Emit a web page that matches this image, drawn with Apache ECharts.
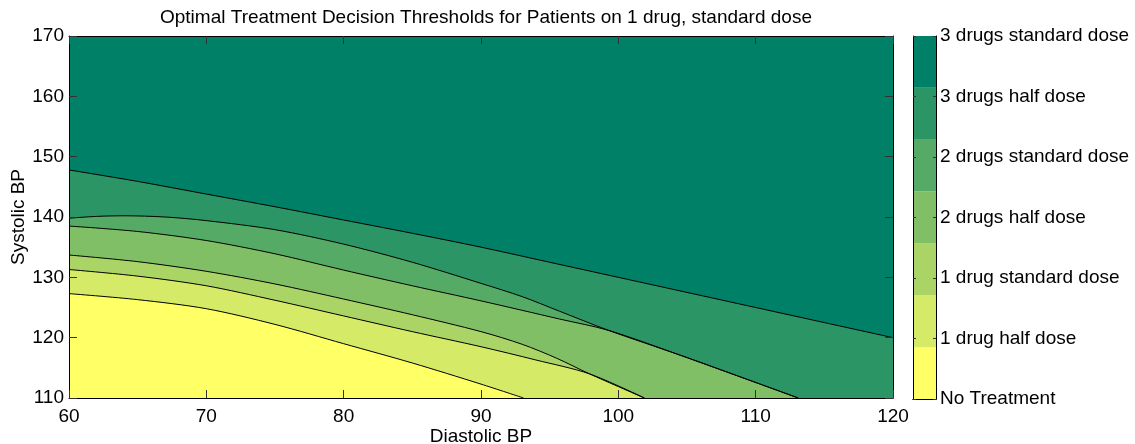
<!DOCTYPE html>
<html><head><meta charset="utf-8">
<script src="https://cdn.jsdelivr.net/npm/echarts@6/dist/echarts.min.js"></script>
<style>html,body{margin:0;padding:0;background:#fff}#c{width:1135px;height:444px}</style>
</head><body><div id="c"></div>
<script>
const titleText = 'Optimal Treatment Decision Thresholds for Patients on 1 drug, standard dose';
const xName = 'Diastolic BP';
const yName = 'Systolic BP';
const xRange = [60, 120];
const yRange = [110, 170];
const levelNames = ['No Treatment', '1 drug half dose', '1 drug standard dose', '2 drugs half dose',
  '2 drugs standard dose', '3 drugs half dose', '3 drugs standard dose'];
const levelColors = ['#FFFF66', '#D5EA66', '#AAD566', '#80BF66', '#55AA66', '#2B9566', '#008066'];

// contour boundaries [diastolic, systolic]
const curveA = [[60,147.8],[65,145.9],[70,143.8],[75,141.7],[80,139.5],[85,137.3],[90,135.0],[95,132.5],[100,130.0],[105,127.5],[110,125.0],[115,122.5],[120,120.0]];
const mergeBC = [[99.3,121.2],[104.5,117.1],[109,113.4],[113.1,110]];
const curveB = [[60,139.8],[62,140.1],[64,140.2],[67,140.0],[70,139.4],[75,137.9],[80,135.5],[85,132.5],[90,129.0],[93,126.8],[95.7,124.4]].concat(mergeBC);
const curveC = [[60,138.5],[65,137.6],[70,136.1],[75,133.9],[80,131.2],[85,128.6],[90,126.1],[95.7,123.1]].concat(mergeBC);
const mergeDE = [[97.9,114.0],[101.9,110]];
const curveD = [[60,133.7],[65,132.6],[70,131.0],[75,128.9],[80,126.4],[85,123.8],[90,121.0],[93,118.9],[95.5,116.6]].concat(mergeDE);
const curveE = [[60,131.3],[65,130.2],[70,128.6],[75,126.2],[80,123.6],[85,121.0],[90,118.5],[94,116.3]].concat(mergeDE);
const curveF = [[60,127.3],[65,126.3],[70,124.8],[75,122.2],[80,119.0],[85,115.8],[90,112.3],[93.1,110]];

const boundaries = [curveA, curveB, curveC, curveD, curveE, curveF]; // top to bottom
const levelBelow = [5, 4, 3, 2, 1, 0];

const FONT = 'Liberation Sans, Arial, Helvetica, sans-serif';
const FS = 19;
const SMOOTH = 0.3;
const series = [];
boundaries.forEach((c, i) => {
  series.push({type:'line', xAxisIndex:0, yAxisIndex:0, data:c, symbol:'none', smooth:SMOOTH,
    lineStyle:{width:0, opacity:0}, areaStyle:{color:levelColors[levelBelow[i]], opacity:1, origin:'start'},
    z:2, silent:true, animation:false});
});
boundaries.forEach((c) => {
  series.push({type:'line', xAxisIndex:0, yAxisIndex:0, data:c, symbol:'none', smooth:SMOOTH,
    lineStyle:{color:'#000', width:1}, z:3, silent:true, animation:false});
});
// colorbar bands
const nLev = levelNames.length;
levelColors.forEach((col) => {
  series.push({type:'bar', xAxisIndex:2, yAxisIndex:2, stack:'cb', data:[(nLev - 1) / nLev], barWidth:'100%',
    itemStyle:{color:col}, silent:true, animation:false});
});

const tickStyle = {show:true, inside:true, length:8, lineStyle:{color:'#333', width:1}};
const lineStyle = {show:true, lineStyle:{color:'#000', width:1}};
const option = {
  animation:false,
  textStyle:{fontFamily:FONT},
  title:{text:titleText, left:155, top:3, textStyle:{fontFamily:FONT, fontSize:FS, fontWeight:'normal', color:'#000'}},
  grid:[
    {left:69, right:1135-893, top:36, bottom:444-398, show:true, backgroundColor:levelColors[6], borderWidth:0,
      containLabel:false, outerBoundsMode:'none'},
    {left:913, width:23, top:36, height:363, containLabel:false, outerBoundsMode:'none'}
  ],
  xAxis:[
    {type:'value', gridIndex:0, min:xRange[0], max:xRange[1], interval:10, position:'bottom', z:10,
      axisLine:lineStyle, axisTick:tickStyle, splitLine:{show:false},
      axisLabel:{fontSize:FS, color:'#000', margin:9, fontFamily:FONT},
      name:xName, nameLocation:'middle', nameGap:29, nameMoveOverlap:false,
      nameTextStyle:{fontSize:FS, color:'#000', fontFamily:FONT}},
    {type:'value', gridIndex:0, min:xRange[0], max:xRange[1], interval:10, position:'top', z:10,
      axisLine:lineStyle, axisTick:tickStyle, splitLine:{show:false}, axisLabel:{show:false}},
    {type:'category', gridIndex:1, data:[''], position:'bottom', z:10, axisLine:lineStyle, axisTick:{show:false}, axisLabel:{show:false}},
    {type:'category', gridIndex:1, data:[''], position:'top', z:10, axisLine:lineStyle, axisTick:{show:false}, axisLabel:{show:false}}
  ],
  yAxis:[
    {type:'value', gridIndex:0, min:yRange[0], max:yRange[1], interval:10, position:'left', z:10,
      axisLine:lineStyle, axisTick:tickStyle, splitLine:{show:false},
      axisLabel:{fontSize:FS, color:'#000', margin:5, fontFamily:FONT},
      name:yName, nameLocation:'middle', nameGap:41, nameMoveOverlap:false,
      nameTextStyle:{fontSize:FS, color:'#000', fontFamily:FONT}},
    {type:'value', gridIndex:0, min:yRange[0], max:yRange[1], interval:10, position:'right', z:10,
      axisLine:lineStyle, axisTick:tickStyle, splitLine:{show:false}, axisLabel:{show:false}},
    {type:'value', gridIndex:1, min:0, max:nLev - 1, interval:1, position:'left', z:10,
      axisLine:lineStyle, axisTick:{show:true, inside:true, length:3, lineStyle:{color:'#333'}}, splitLine:{show:false}, axisLabel:{show:false}},
    {type:'value', gridIndex:1, min:0, max:nLev - 1, interval:1, position:'right', z:10,
      axisLine:lineStyle, axisTick:{show:true, inside:true, length:3, lineStyle:{color:'#333'}}, splitLine:{show:false},
      axisLabel:{fontSize:FS, color:'#000', margin:4, fontFamily:FONT, formatter:(v) => levelNames[Math.round(v)]}}
  ],
  series:series
};
const chart = echarts.init(document.getElementById('c'), null, {renderer:'canvas'});
chart.setOption(option);
</script></body></html>
